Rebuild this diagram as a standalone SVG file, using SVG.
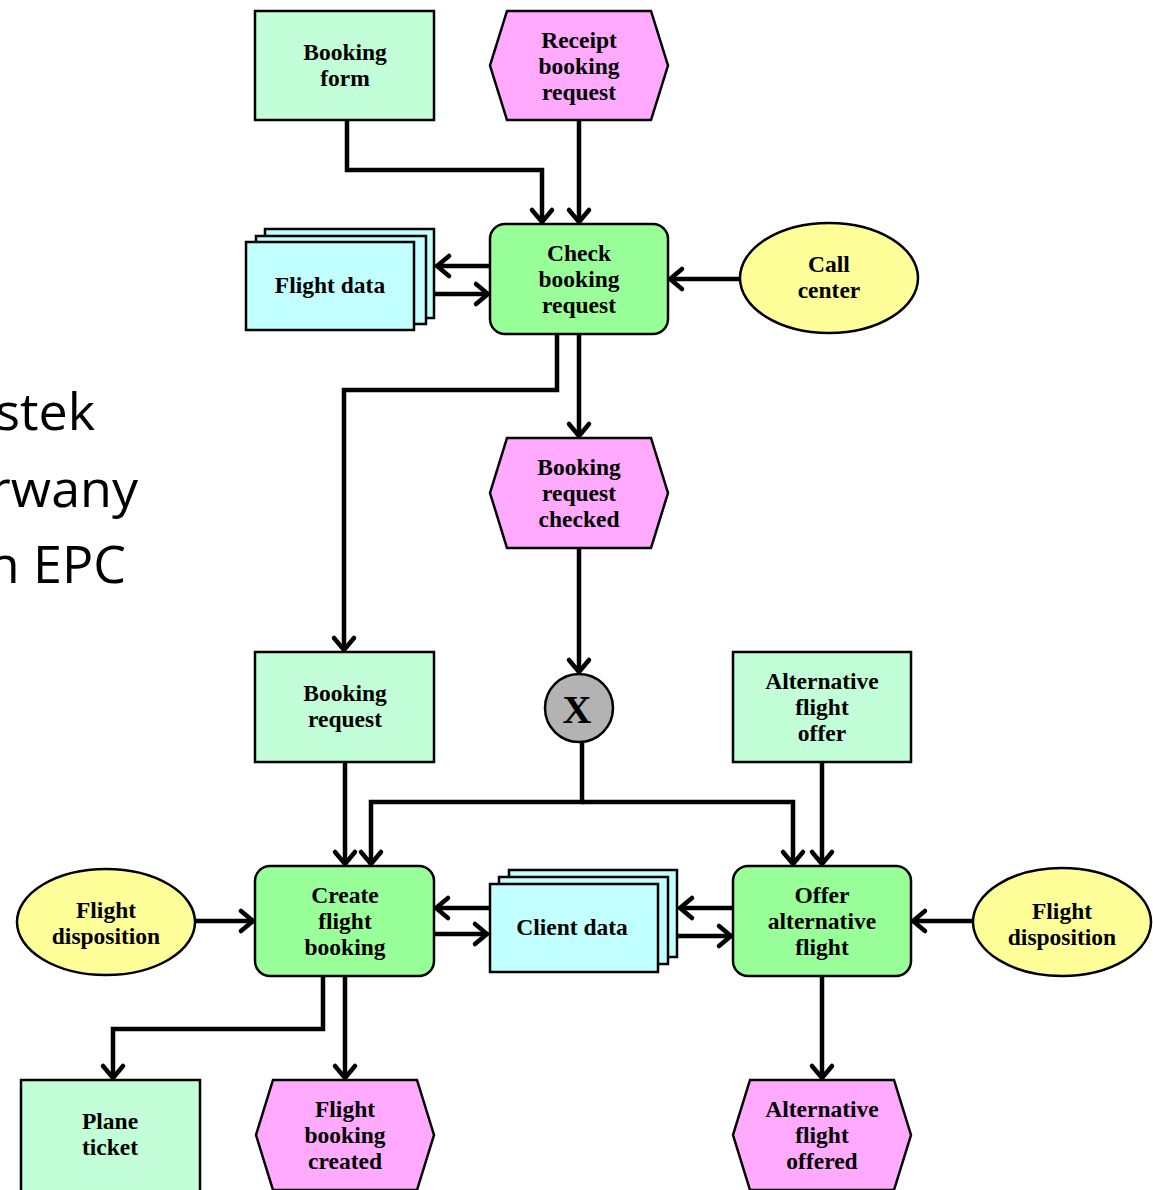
<svg xmlns="http://www.w3.org/2000/svg" width="1153" height="1190" viewBox="0 0 1153 1190">
<defs>
<marker id="arr" markerUnits="userSpaceOnUse" markerWidth="30" markerHeight="30" viewBox="-16 -15 20 30" refX="0" refY="0" orient="auto">
<path d="M -12 -10 L 0 0 L -12 10" fill="none" stroke="#000" stroke-width="4.5" stroke-linecap="round" stroke-linejoin="miter"/>
</marker>
</defs>
<style>
.t{font-family:"Liberation Serif","Times New Roman",serif;font-weight:bold;font-size:23.5px;fill:#000;text-anchor:middle}
.sh{stroke:#000;stroke-width:2.5}
.ev{fill:#ffaaff}
.fn{fill:#99ff99}
.inf{fill:#c2ffd8}
.dat{fill:#c2ffff}
.org{fill:#ffff99}
.gt{fill:#b3b3b3}
.c{fill:none;stroke:#000;stroke-width:4.5;stroke-linejoin:miter;marker-end:url(#arr)}
.big{font-family:"Open Sans","Noto Sans",sans-serif;font-size:52px;fill:#000;text-anchor:end}
</style>
<rect width="1153" height="1190" fill="#fff"/>
<g id="side-text">
<text class="big" x="95" y="430">stek</text>
<text class="big" x="138" y="507">rwany</text>
<text class="big" x="126" y="583">n EPC</text>
</g>
<g id="connectors">
<path class="c" d="M347 118 V170 H542 V222"/>
<path class="c" d="M579 121 V222"/>
<path class="c" d="M490 266 H437"/>
<path class="c" d="M434 294 H488"/>
<path class="c" d="M740 279 H670"/>
<path class="c" d="M557 334 V390 H344 V650"/>
<path class="c" d="M579 334 V436"/>
<path class="c" d="M579 548 V672"/>
<path class="c" d="M582 742 V802 H371 V864"/>
<path class="c" d="M582 802 H793 V864"/>
<path class="c" d="M345 762 V864"/>
<path class="c" d="M822 762 V864"/>
<path class="c" d="M490 908 H436"/>
<path class="c" d="M434 934 H487"/>
<path class="c" d="M733 908 H680"/>
<path class="c" d="M678 936 H731"/>
<path class="c" d="M972 921 H913"/>
<path class="c" d="M196 921 H253"/>
<path class="c" d="M323 976 V1029 H113 V1078"/>
<path class="c" d="M345 976 V1078"/>
<path class="c" d="M822 976 V1078"/>
</g>
<g id="booking-form">
<rect class="inf sh" x="255" y="11" width="179" height="109"/>
<text class="t" x="345" y="60">Booking</text>
<text class="t" x="345" y="86">form</text>
</g>
<g id="receipt-booking-request">
<polygon class="ev sh" points="507,11 651,11 668,65.5 651,120 507,120 490,65.5"/>
<text class="t" x="579" y="48">Receipt</text>
<text class="t" x="579" y="74">booking</text>
<text class="t" x="579" y="100">request</text>
</g>
<g id="flight-data">
<rect class="dat sh" x="265" y="229" width="169" height="89"/>
<rect class="dat sh" x="256" y="236" width="170" height="88"/>
<rect class="dat sh" x="246" y="242" width="168" height="88"/>
<text class="t" x="330" y="293">Flight data</text>
</g>
<g id="check-booking-request">
<rect class="fn sh" x="490" y="224" width="178" height="110" rx="15"/>
<text class="t" x="579" y="261">Check</text>
<text class="t" x="579" y="287">booking</text>
<text class="t" x="579" y="313">request</text>
</g>
<g id="call-center">
<ellipse class="org sh" cx="829" cy="278" rx="89" ry="55"/>
<text class="t" x="829" y="272">Call</text>
<text class="t" x="829" y="298">center</text>
</g>
<g id="booking-request-checked">
<polygon class="ev sh" points="507,438 651,438 668,493 651,548 507,548 490,493"/>
<text class="t" x="579" y="475">Booking</text>
<text class="t" x="579" y="501">request</text>
<text class="t" x="579" y="527">checked</text>
</g>
<g id="booking-request">
<rect class="inf sh" x="255" y="652" width="179" height="110"/>
<text class="t" x="345" y="701">Booking</text>
<text class="t" x="345" y="727">request</text>
</g>
<g id="xor">
<circle class="gt sh" cx="579" cy="708" r="34"/>
<text class="t" x="577" y="723" style="font-size:40px">X</text>
</g>
<g id="alternative-flight-offer">
<rect class="inf sh" x="733" y="652" width="178" height="110"/>
<text class="t" x="822" y="689">Alternative</text>
<text class="t" x="822" y="715">flight</text>
<text class="t" x="822" y="741">offer</text>
</g>
<g id="flight-disposition-left">
<ellipse class="org sh" cx="106" cy="922" rx="89" ry="53"/>
<text class="t" x="106" y="918">Flight</text>
<text class="t" x="106" y="944">disposition</text>
</g>
<g id="create-flight-booking">
<rect class="fn sh" x="255" y="866" width="179" height="110" rx="15"/>
<text class="t" x="345" y="903">Create</text>
<text class="t" x="345" y="929">flight</text>
<text class="t" x="345" y="955">booking</text>
</g>
<g id="client-data">
<rect class="dat sh" x="509" y="870" width="168" height="87"/>
<rect class="dat sh" x="499" y="877" width="169" height="87"/>
<rect class="dat sh" x="490" y="884" width="168" height="88"/>
<text class="t" x="572" y="935">Client data</text>
</g>
<g id="offer-alternative-flight">
<rect class="fn sh" x="733" y="866" width="178" height="110" rx="15"/>
<text class="t" x="822" y="903">Offer</text>
<text class="t" x="822" y="929">alternative</text>
<text class="t" x="822" y="955">flight</text>
</g>
<g id="flight-disposition-right">
<ellipse class="org sh" cx="1062" cy="922" rx="89" ry="54"/>
<text class="t" x="1062" y="919">Flight</text>
<text class="t" x="1062" y="945">disposition</text>
</g>
<g id="plane-ticket">
<rect class="inf sh" x="21" y="1080" width="179" height="112"/>
<text class="t" x="110" y="1129">Plane</text>
<text class="t" x="110" y="1155">ticket</text>
</g>
<g id="flight-booking-created">
<polygon class="ev sh" points="273,1080 417,1080 434,1135 417,1190 273,1190 256,1135"/>
<text class="t" x="345" y="1117">Flight</text>
<text class="t" x="345" y="1143">booking</text>
<text class="t" x="345" y="1169">created</text>
</g>
<g id="alternative-flight-offered">
<polygon class="ev sh" points="750,1080 894,1080 911,1135 894,1190 750,1190 733,1135"/>
<text class="t" x="822" y="1117">Alternative</text>
<text class="t" x="822" y="1143">flight</text>
<text class="t" x="822" y="1169">offered</text>
</g>
</svg>
